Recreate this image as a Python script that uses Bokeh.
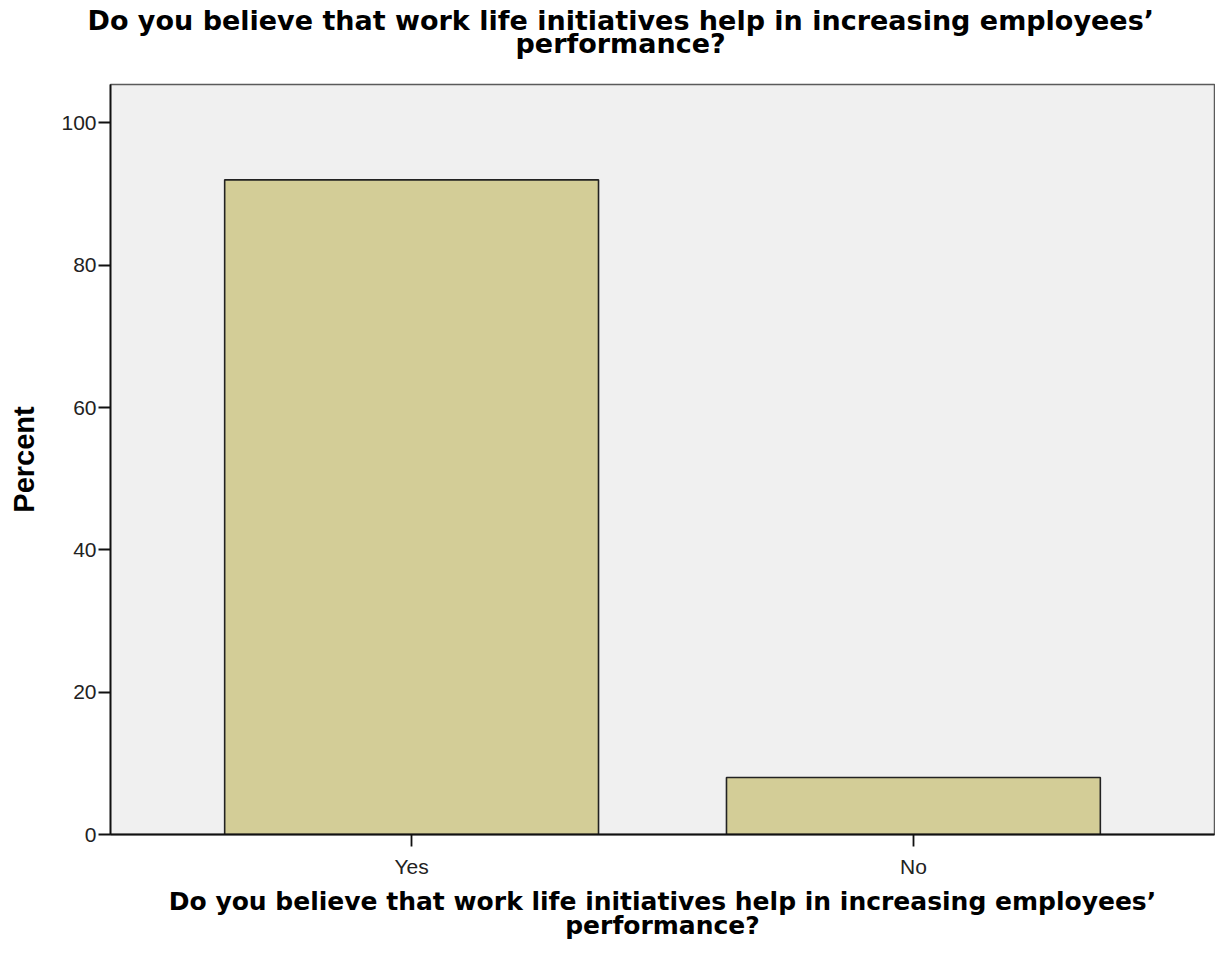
from bokeh.plotting import figure
from bokeh.models import Range1d, FactorRange, SingleIntervalTicker, FixedTicker, Title, LinearAxis
from bokeh.embed import file_html
from bokeh.resources import INLINE

# Data
categories = ["Yes", "No"]
percents = [92.0, 8.0]
title_line1 = "Do you believe that work life initiatives help in increasing employees\u2019"
title_line2 = "performance?"
x_label = title_line1 + "\n" + title_line2
y_label = "Percent"

p = figure(
    width=1215, height=945, title=None,
    x_range=FactorRange(factors=categories, range_padding=0.1, range_padding_units="absolute"),
    y_range=Range1d(0, 105.4),
    output_backend="svg", toolbar_location=None,
    min_border_left=110, min_border_right=1, min_border_top=84, min_border_bottom=111,
)
xax = p.below[0]
yax = p.left[0]

p.vbar(x=categories, top=percents, width=0.745,
       fill_color="#d3cd97", line_color="#222222", line_width=1.6)

p.background_fill_color = "#f0f0f0"
p.border_fill_color = "white"
p.outline_line_color = "#5a5a5a"
p.outline_line_width = 1.5
p.xgrid.visible = False
p.ygrid.visible = False

# Invisible spacer between the frame and the title lines
spacer = LinearAxis(ticker=FixedTicker(ticks=[0.5]), major_label_overrides={0.5: ""},
                    axis_line_color=None, major_tick_line_color=None,
                    minor_tick_line_color=None, major_tick_in=0, major_tick_out=26,
                    minor_tick_out=0, major_label_standoff=0,
                    major_label_text_font_size="1px", major_label_text_alpha=0)
p.add_layout(spacer, "above")

# Chart title: two lines, centred on the page
t2 = Title(text=title_line2, align="left", offset=405, text_font="DejaVu Sans",
           text_font_style="bold", text_font_size="27px", text_color="black",
           standoff=0)
t1 = Title(text=title_line1, align="left", offset=-23, text_font="DejaVu Sans",
           text_font_style="bold", text_font_size="27px", text_color="black",
           standoff=-20)
p.add_layout(t2, "above")
p.add_layout(t1, "above")

# Axes
for ax in (xax, yax):
    ax.axis_line_color = "#111111"
    ax.axis_line_width = 1.8
    ax.major_tick_line_color = "#111111"
    ax.major_tick_line_width = 1.8
    ax.major_tick_in = 0
    ax.major_tick_out = 12
    ax.minor_tick_line_color = None
    ax.major_label_text_font = "Liberation Sans"
    ax.major_label_text_font_size = "21px"
    ax.major_label_text_color = "#222222"
    ax.axis_label_text_color = "black"
    ax.axis_label_text_font_style = "bold"

yax.ticker = SingleIntervalTicker(interval=20)
yax.axis_label = y_label
yax.axis_label_text_font = "Liberation Sans"
yax.axis_label_text_font_size = "29px"
yax.axis_label_standoff = 18
yax.major_label_standoff = 2

xax.axis_label = x_label
xax.axis_label_text_font = "DejaVu Sans"
xax.axis_label_text_font_size = "25px"
xax.axis_label_text_line_height = 0.86
xax.axis_label_standoff = 6
xax.major_label_standoff = 8

open("out.html", "w").write(file_html(p, INLINE))
